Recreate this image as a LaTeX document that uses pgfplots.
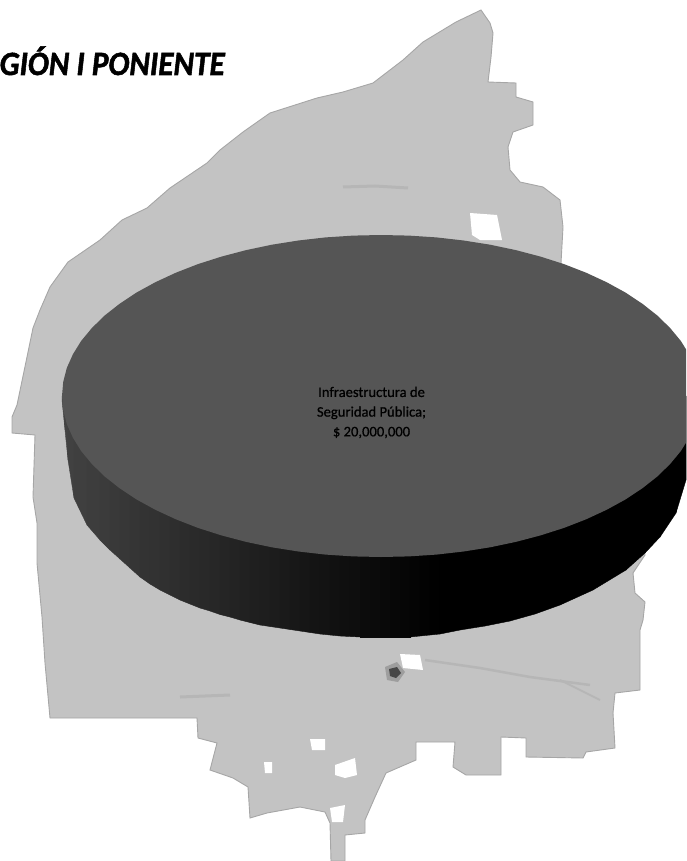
\documentclass[border=0pt]{standalone}
\usepackage{fontspec}
\setmainfont{Carlito}
\newfontfamily\titlefont[BoldItalicFeatures={FakeBold=1.6}]{Carlito}
\newfontfamily\labelfont[FakeBold=0.7]{Carlito}
\usepackage{pgfplots}
\pgfplotsset{compat=1.18}
\definecolor{mapfill}{HTML}{C3C3C3}
\definecolor{mapedge}{HTML}{A6A6A6}
\definecolor{streak}{HTML}{B6B6B6}
\definecolor{pietop}{HTML}{555555}
\begin{document}
\begin{tikzpicture}
\path[use as bounding box, clip] (0,0) rectangle (686pt,861pt);
\begin{axis}[
    scale only axis,
    width=686pt, height=861pt,
    at={(0,0)}, anchor=south west,
    xmin=0, xmax=686, ymin=0, ymax=861,
    y dir=reverse,
    hide axis,
    colormap={sidegray}{gray(0cm)=(0); gray(1cm)=(1)},
    point meta min=0, point meta max=1,
]

% map silhouette, traced in image pixels
\addplot[fill=mapfill, draw=mapedge, line width=0.9pt] coordinates {
(481,10)(490,23)(493,33)(491,57)(488,82)(516,83)(516,97)(533,102)(533,125)(513,132)
(508,147)(510,170)(520,182)(543,187)(560,200)(563,227)(561,263)(600,400)(645,555)
(633,573)(635,593)(645,602)(643,620)(640,630)(640,690)(615,693)(613,713)(615,748)
(586,752)(583,758)(526,757)(526,738)(501,737)(501,775)(466,775)(453,767)(455,742)
(416,742)(416,760)(386,773)(375,797)(365,820)(365,833)(345,835)(345,861)(331,861)
(330,823)(325,812)(300,807)(267,813)(250,818)(248,787)(233,778)(210,770)(217,743)
(198,738)(197,718)(50,718)(45,663)(42,617)(37,563)(37,523)(33,497)(35,435)(12,433)
(12,417)(17,405)(27,357)(33,328)(40,310)(50,287)(68,262)(100,240)(122,220)(147,208)
(170,188)(207,163)(220,150)(243,132)(270,113)(317,98)(343,92)(373,83)(403,60)(423,42)
(456,22)(481,10)
} -- cycle;

% holes in the map
\addplot[fill=white, draw=none] coordinates {(470,213)(497,215)(502,240)(480,240)(472,235)} -- cycle;
\addplot[fill=white, draw=none] coordinates {(400,654)(420,655)(423,670)(403,668)} -- cycle;
\addplot[fill=white, draw=none] coordinates {(310,739)(325,739)(325,750)(312,750)} -- cycle;
\addplot[fill=white, draw=none] coordinates {(264,762)(272,762)(272,773)(265,773)} -- cycle;
\addplot[fill=white, draw=none] coordinates {(335,765)(355,758)(357,775)(345,778)(335,775)} -- cycle;
\addplot[fill=white, draw=none] coordinates {(330,808)(345,805)(343,822)(332,822)} -- cycle;
\addplot[fill=black!38, draw=none] coordinates {(385,667)(397,662)(405,672)(398,682)(387,680)} -- cycle;
\addplot[fill=black!72, draw=none] coordinates {(389,669)(397,667)(401,673)(396,678)(390,676)} -- cycle;

% faint roads
\addplot[draw=streak, line width=3pt] coordinates {(343,187)(375,186)(408,188)};
\addplot[draw=streak, line width=2.5pt] coordinates {(425,660)(480,668)(530,677)(590,685)};
\addplot[draw=streak, line width=2pt] coordinates {(560,680)(600,700)};
\addplot[draw=streak, line width=3pt] coordinates {(180,697)(230,695)};

% side of the pie: x, top edge (hidden by the top face), bottom edge, gray level
\addplot[surf, shader=flat, mesh/rows=2, mesh/ordering=y varies, point meta=explicit]
    table[x=x, y=y, meta=c] {
x y c
62 396 .26
62 400 .26
65 396 .26
65 430 .26
68 396 .26
68 460 .26
74 396 .25
74 498 .25
87 396 .24
87 525 .24
100 396 .233
100 540 .233
110 396 .226
110 550 .226
120 396 .219
120 559 .219
130 396 .212
130 568 .212
140 396 .204
140 577 .204
150 396 .197
150 584 .197
160 396 .19
160 590 .19
170 396 .183
170 595 .183
180 396 .176
180 600 .176
190 396 .169
190 604 .169
200 396 .162
200 608 .162
210 396 .155
210 611 .155
220 396 .148
220 614.5 .148
230 396 .14
230 617 .14
240 396 .133
240 620 .133
250 396 .126
250 622.5 .126
260 396 .119
260 625 .119
270 396 .112
270 626.5 .112
280 396 .105
280 628 .105
290 396 .098
290 629.5 .098
300 396 .09
300 631 .09
310 396 .083
310 632.5 .083
320 396 .076
320 634 .076
330 396 .069
330 635 .069
340 396 .062
340 636 .062
350 396 .056
350 636.5 .056
360 396 .05
360 637 .05
370 396 .044
370 637 .044
380 396 .038
380 637 .038
390 396 .032
390 637 .032
400 396 .025
400 637 .025
410 396 .018
410 637 .018
420 396 .012
420 636 .012
430 396 .006
430 635 .006
440 396 0
440 634 0
460 396 0
460 630 0
485 396 0
485 626 0
510 396 0
510 621 0
535 396 0
535 614 0
560 396 0
560 605 0
593 396 0
593 590 0
626 396 0
626 570 0
645 396 0
645 553 0
660 396 0
660 537 0
676 396 0
676 513 0
686 396 0
686 480 0
700 396 0
700 400 0
};

% top of the pie
\addplot[fill=pietop, draw=none] coordinates {
(700,396)(698.8,382)(695.2,368)(689.1,354.3)(680.8,340.9)(670.1,328)(657.3,315.5)(642.3,303.7)
(625.4,292.5)(606.6,282.2)(586.1,272.7)(564,264.1)(540.5,256.6)(515.8,250.1)(490.1,244.7)
(463.6,240.5)(436.4,237.4)(408.8,235.6)(381,235)(353.2,235.6)(325.6,237.4)(298.4,240.5)
(271.9,244.7)(246.2,250.1)(221.5,256.6)(198,264.1)(175.9,272.7)(155.4,282.2)(136.6,292.5)
(119.7,303.7)(104.7,315.5)(91.9,328)(81.2,340.9)(72.9,354.3)(66.8,368)(63.2,382)(62,396)
(63.2,410)(66.8,424)(72.9,437.7)(81.2,451.1)(91.9,464)(104.7,476.5)(119.7,488.3)(136.6,499.5)
(155.4,509.8)(175.9,519.3)(198,527.9)(221.5,535.4)(246.2,541.9)(271.9,547.3)(298.4,551.5)
(325.6,554.6)(353.2,556.4)(381,557)(408.8,556.4)(436.4,554.6)(463.6,551.5)(490.1,547.3)
(515.8,541.9)(540.5,535.4)(564,527.9)(586.1,519.3)(606.6,509.8)(625.4,499.5)(642.3,488.3)
(657.3,476.5)(670.1,464)(680.8,451.1)(689.1,437.7)(695.2,424)(698.8,410)
} -- cycle;

\node[anchor=center, align=center, text=black, font=\labelfont\fontsize{14.6}{19.7}\selectfont, inner sep=0pt]
    at (axis cs:371.5,412.5) {Infraestructura de\\Seguridad Pública;\\\$ 20,000,000};
\node[anchor=base east, inner sep=0pt, text=black, font=\titlefont\fontsize{34}{34}\selectfont\bfseries\itshape]
    at (axis cs:225,75) {\scalebox{0.92}[1]{GIÓN I PONIENTE}};

\end{axis}
\end{tikzpicture}
\end{document}
